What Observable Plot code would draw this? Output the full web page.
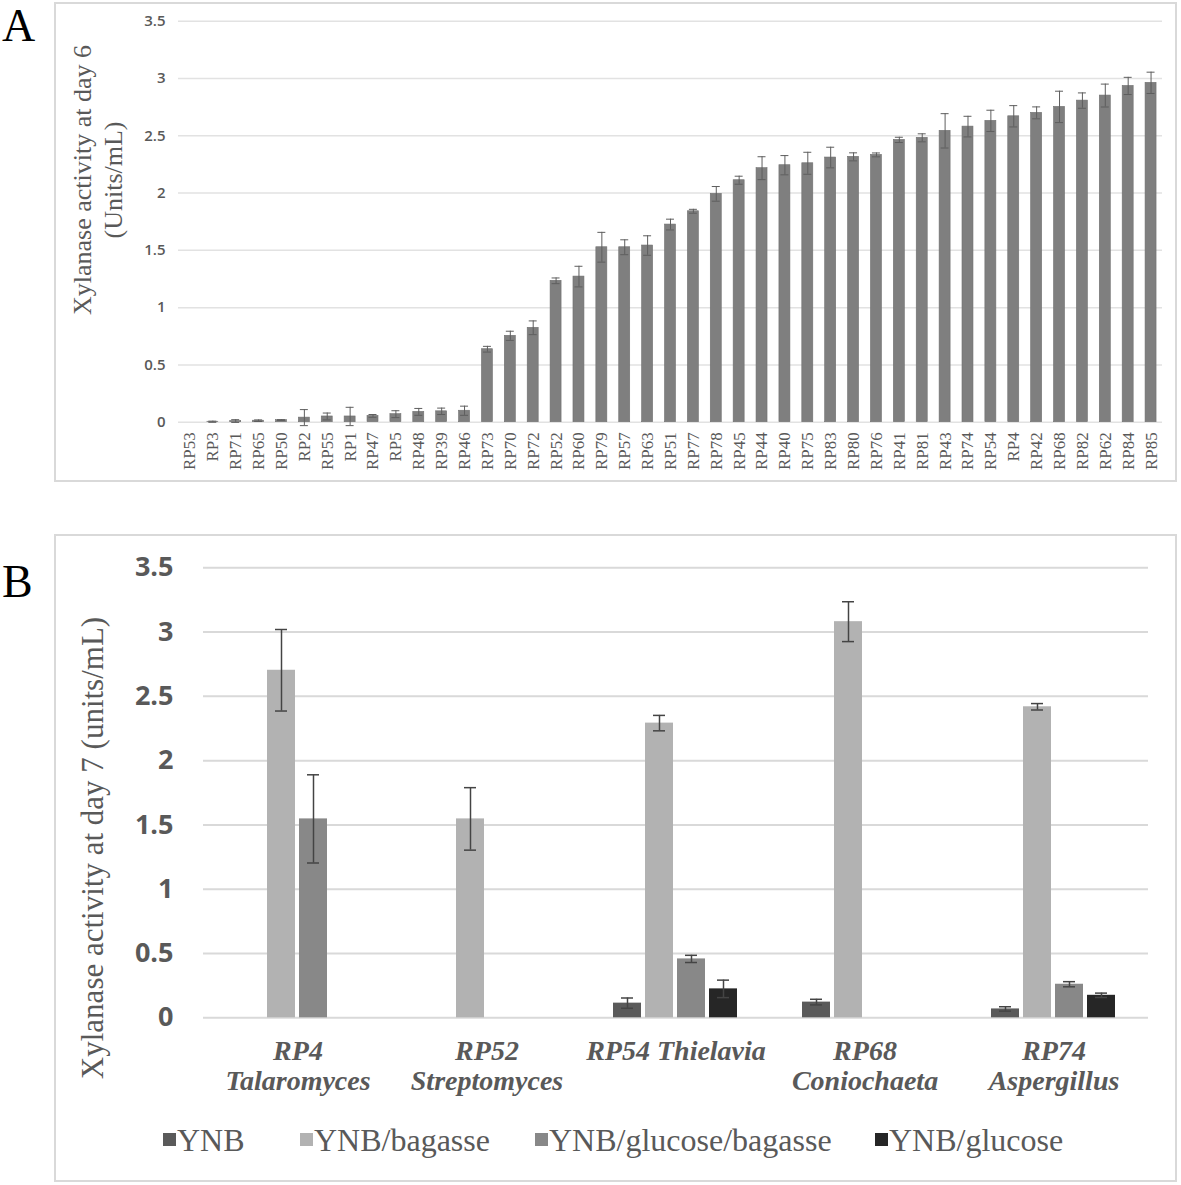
<!DOCTYPE html>
<html><head><meta charset="utf-8">
<script src="https://cdn.jsdelivr.net/npm/d3@7"></script>
<script src="https://cdn.jsdelivr.net/npm/@observablehq/plot@0.6"></script>
<style>
html,body{margin:0;padding:0;background:#fff;}
#wrap{position:relative;width:1181px;height:1185px;overflow:hidden;}
#a{position:absolute;left:0;top:0;}
#b{position:absolute;left:0;top:520px;}
</style></head><body><div id="wrap"><div id="a"></div><div id="b"></div></div>
<script>
// ---------- Panel A data ----------
const strainsA = ["RP53","RP3","RP71","RP65","RP50","RP2","RP55","RP1","RP47","RP5","RP48","RP39","RP46","RP73","RP70","RP72","RP52","RP60","RP79","RP57","RP63","RP51","RP77","RP78","RP45","RP44","RP40","RP75","RP83","RP80","RP76","RP41","RP81","RP43","RP74","RP54","RP4","RP42","RP68","RP82","RP62","RP84","RP85"];
const activityA = [0,0.004,0.01,0.013,0.018,0.04,0.05,0.05,0.055,0.07,0.09,0.095,0.1,0.637,0.754,0.824,1.234,1.271,1.527,1.527,1.542,1.725,1.841,1.993,2.112,2.217,2.243,2.26,2.31,2.316,2.333,2.464,2.482,2.543,2.58,2.63,2.67,2.70,2.752,2.807,2.851,2.935,2.962];
const errorA = [0,0.005,0.012,0.007,0.004,0.07,0.03,0.08,0.012,0.03,0.03,0.028,0.04,0.025,0.04,0.06,0.025,0.09,0.13,0.065,0.085,0.047,0.017,0.064,0.035,0.1,0.084,0.096,0.09,0.035,0.017,0.023,0.035,0.15,0.09,0.093,0.093,0.052,0.137,0.067,0.1,0.075,0.093];
const yTicksA = [0,0.5,1,1.5,2,2.5,3,3.5];

// ---------- Panel B data ----------
const groupsB = ["RP4","RP52","RP54","RP68","RP74"];
const groupLabelsB = ["RP4\nTalaromyces","RP52\nStreptomyces","RP54 Thielavia","RP68\nConiochaeta","RP74\nAspergillus"];
const mediaB = ["YNB","YNB/bagasse","YNB/glucose/bagasse","YNB/glucose"];
const colorsB = ["#5a5a5a","#b2b2b2","#888888","#262626"];
const ynbB = [null,null,0.114,0.122,0.069];
const ynbErrB = [null,null,0.04,0.022,0.017];
const bagasseB = [2.703,1.547,2.292,3.081,2.419];
const bagasseErrB = [0.317,0.243,0.06,0.155,0.025];
const glucBagB = [1.547,null,0.458,null,0.261];
const glucBagErrB = [0.343,null,0.028,null,0.02];
const glucoseB = [null,null,0.225,null,0.175];
const glucoseErrB = [null,null,0.068,null,0.017];
const yTicksB = [0,0.5,1,1.5,2,2.5,3,3.5];

// ---------- tables ----------
const tableA = strainsA.map((s,i)=>({strain:s, value:activityA[i], err:errorA[i]}));
const seriesVals = [ynbB, bagasseB, glucBagB, glucoseB];
const seriesErrs = [ynbErrB, bagasseErrB, glucBagErrB, glucoseErrB];
const tableB = [];
groupsB.forEach((g,i)=>{
  mediaB.forEach((m,j)=>{
    const v = seriesVals[j][i];
    if (v != null) tableB.push({group:g, medium:m, value:v, err:seriesErrs[j][i]});
  });
});
const labelRowsB = groupsB.map((g,i)=>({group:g, label:groupLabelsB[i]}));
const fmt = d => String(d);
const serif = "'Liberation Serif', 'Times New Roman', serif";
const sans = "'Open Sans', 'Noto Sans', sans-serif";

// ---------- Plot A ----------
const plotA = Plot.plot({
  width: 1181, height: 520,
  marginLeft: 178, marginRight: 19, marginTop: 20.7, marginBottom: 98.3,
  style: {background: "transparent", fontFamily: serif, color: "#595959", overflow: "visible"},
  x: {domain: strainsA, paddingInner: 0.52, paddingOuter: 0.26},
  y: {domain: [0, 3.5]},
  marks: [
    Plot.gridY(yTicksA, {stroke: "#e2e2e2", strokeOpacity: 1, strokeWidth: 1.5}),
    Plot.axisY(yTicksA, {tickSize: 0, tickPadding: 13, fontSize: 15, fontFamily: sans, fontWeight: 600, label: null, tickFormat: fmt}),
    Plot.axisX({tickSize: 0, tickPadding: 10, tickRotate: -90, fontSize: 17, fontFamily: serif, label: null}),
    Plot.barY(tableA, {x: "strain", y: "value", fill: "#7f7f7f", stroke: "#707070", strokeWidth: 0.6}),
    Plot.ruleX(tableA.filter(d=>d.err>0), {x: "strain", y1: d=>d.value-d.err, y2: d=>d.value+d.err, stroke: "#5e5e5e", strokeWidth: 1}),
    Plot.tickY(tableA.filter(d=>d.err>0), {x: "strain", y: d=>d.value+d.err, stroke: "#5e5e5e", strokeWidth: 1, insetLeft: 1.5, insetRight: 1.5}),
    Plot.tickY(tableA.filter(d=>d.err>0), {x: "strain", y: d=>d.value-d.err, stroke: "#5e5e5e", strokeWidth: 1, insetLeft: 1.5, insetRight: 1.5})
  ]
});
document.getElementById("a").appendChild(plotA);
{
  const svg = d3.select(plotA);
  svg.insert("rect", ":first-child").attr("x",55).attr("y",3).attr("width",1121).attr("height",478)
    .attr("fill","none").attr("stroke","#d9d9d9").attr("stroke-width",2);
  svg.append("text").attr("x",2).attr("y",41).attr("text-anchor","start").attr("font-family",serif).attr("font-size",46).attr("fill","#000").text("A");
  const t = svg.append("text").attr("font-family",serif).attr("font-size",26).attr("fill","#595959")
    .attr("text-anchor","middle").attr("transform","translate(82,180) rotate(-90)");
  t.append("tspan").attr("x",0).attr("dy","0.35em").text("Xylanase activity at day 6");
  t.append("tspan").attr("x",0).attr("dy","1.2em").text("(Units/mL)");
}

// ---------- Plot B ----------
const plotB = Plot.plot({
  width: 1181, height: 665,
  marginLeft: 202, marginRight: 33, marginTop: 47.3, marginBottom: 167.7,
  style: {background: "transparent", fontFamily: serif, color: "#595959", overflow: "visible"},
  fx: {domain: groupsB, paddingInner: 0, paddingOuter: 0, axis: null, label: null},
  x: {domain: mediaB, paddingInner: 0.121, paddingOuter: 0.927, axis: null},
  y: {domain: [0, 3.5]},
  color: {domain: mediaB, range: colorsB},
  marks: [
    Plot.gridY(yTicksB, {stroke: "#d9d9d9", strokeOpacity: 1, strokeWidth: 2}),
    Plot.axisY(yTicksB, {tickSize: 0, tickPadding: 30, fontSize: 27, fontFamily: sans, fontWeight: 700, label: null, tickFormat: fmt}),
    Plot.barY(tableB, {fx: "group", x: "medium", y: "value", fill: "medium"}),
    Plot.ruleX(tableB, {fx: "group", x: "medium", y1: d=>d.value-d.err, y2: d=>d.value+d.err, stroke: "#444", strokeWidth: 1.5}),
    Plot.tickY(tableB, {fx: "group", x: "medium", y: d=>d.value+d.err, stroke: "#444", strokeWidth: 1.5, insetLeft: 8, insetRight: 8}),
    Plot.tickY(tableB, {fx: "group", x: "medium", y: d=>d.value-d.err, stroke: "#444", strokeWidth: 1.5, insetLeft: 8, insetRight: 8}),
    Plot.text(labelRowsB, {fx: "group", text: "label", frameAnchor: "bottom", lineAnchor: "top", dy: 20, lineHeight: 1.1,
      fontSize: 28, fontWeight: "bold", fontStyle: "italic", fontFamily: serif, fill: "#595959"})
  ]
});
document.getElementById("b").appendChild(plotB);
{
  const svg = d3.select(plotB);
  svg.insert("rect", ":first-child").attr("x",55).attr("y",15).attr("width",1121).attr("height",646)
    .attr("fill","none").attr("stroke","#d9d9d9").attr("stroke-width",2);
  svg.append("text").attr("x",2).attr("y",77).attr("text-anchor","start").attr("font-family",serif).attr("font-size",46).attr("fill","#000").text("B");
  svg.append("text").attr("font-family",serif).attr("font-size",31).attr("fill","#595959")
    .attr("text-anchor","middle").attr("dy","0.35em").attr("transform","translate(92,328) rotate(-90)")
    .text("Xylanase activity at day 7 (units/mL)");
  const legX = [163, 300, 535, 875];
  const leg = svg.append("g").attr("text-anchor","start");
  mediaB.forEach((m,j)=>{
    leg.append("rect").attr("x",legX[j]).attr("y",613).attr("width",13).attr("height",13).attr("fill",colorsB[j]);
    leg.append("text").attr("x",legX[j]+14).attr("y",631).attr("text-anchor","start").attr("font-family",serif).attr("font-size",32).attr("fill","#595959").text(m);
  });
}
</script></body></html>
